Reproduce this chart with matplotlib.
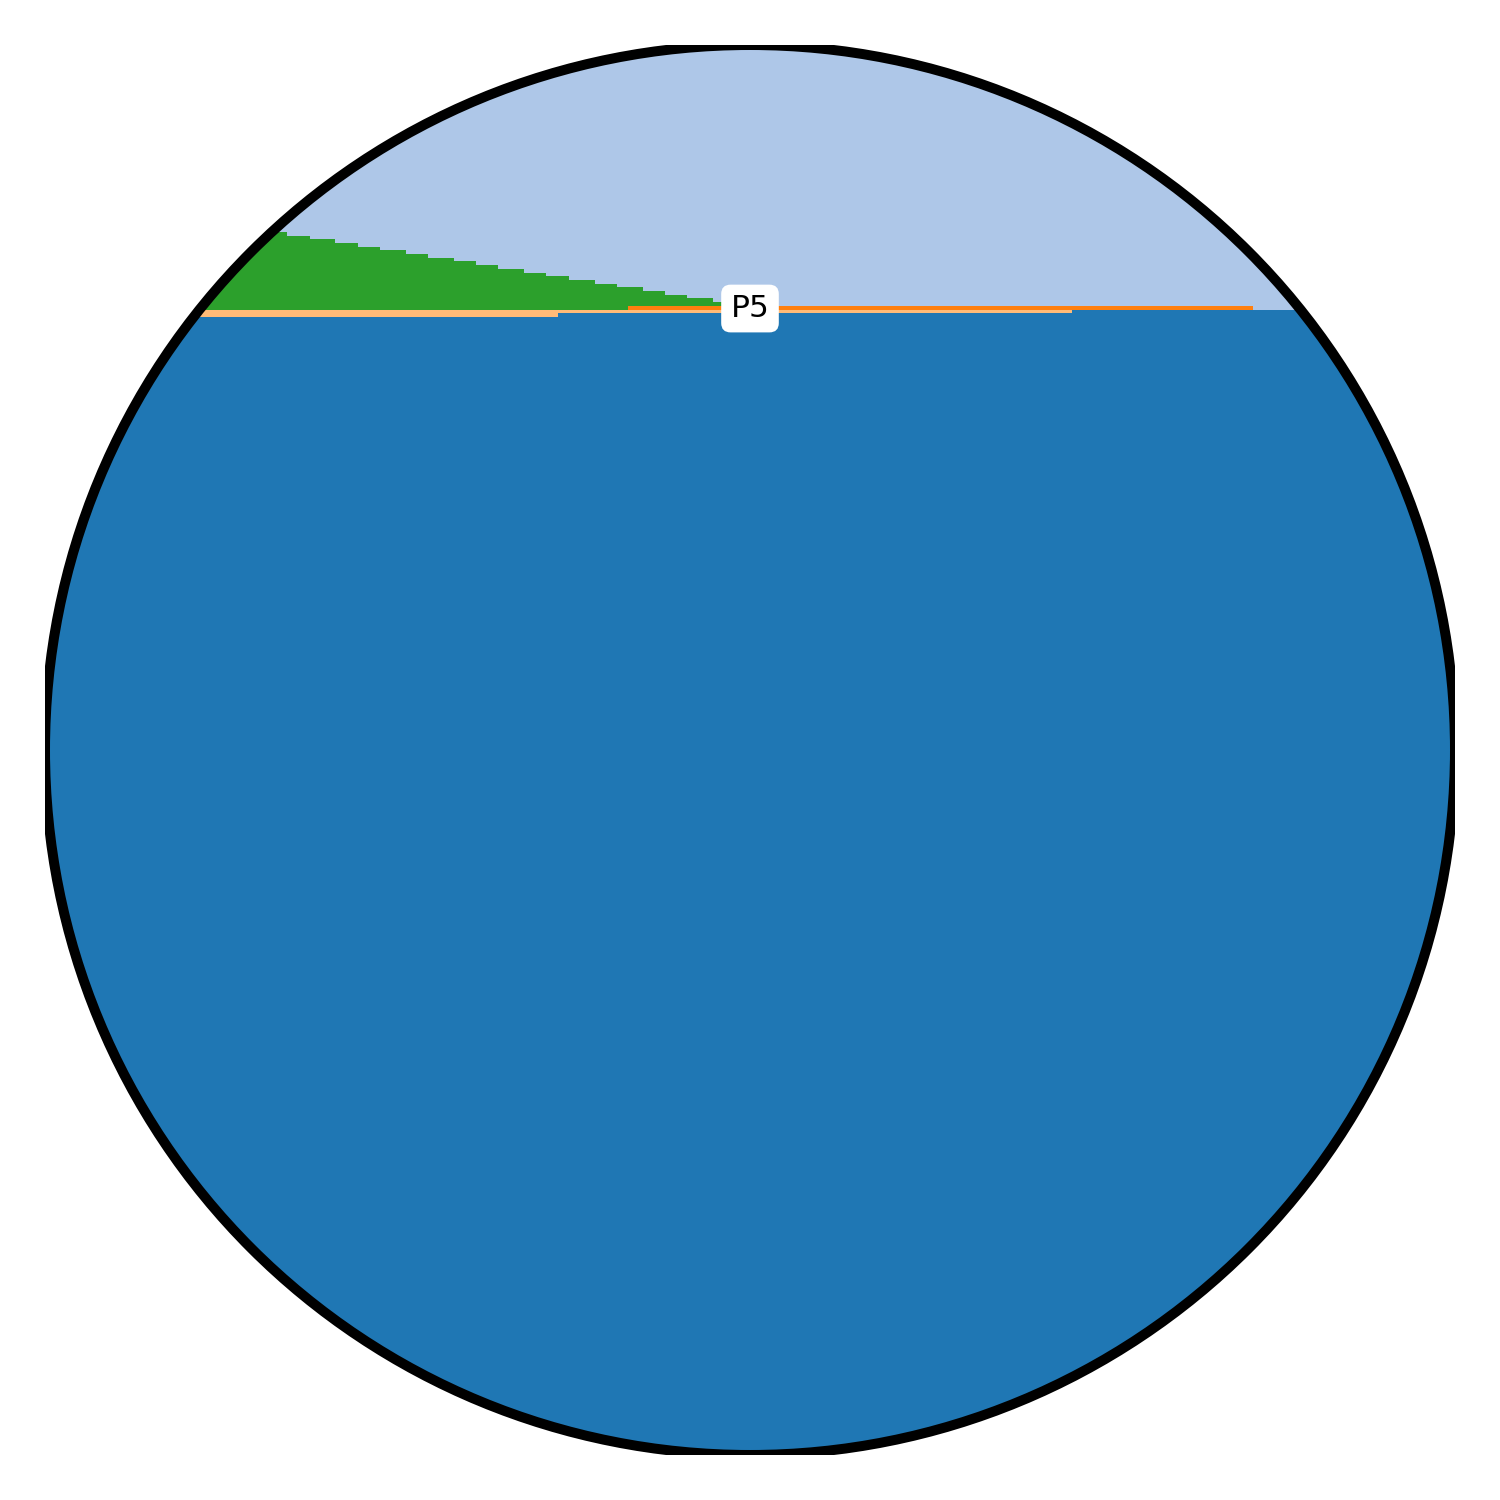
import matplotlib
matplotlib.use('Agg')
import matplotlib.pyplot as plt
from matplotlib.patches import Circle
import numpy as np

# x breakpoints (data units, 0-100)
x_edges = [0, 15.46, 17.14, 18.79, 20.57, 22.22, 23.76, 25.60, 27.16, 29.01, 30.57,
           32.13, 33.97, 35.53, 36.38, 37.16, 39.01, 40.57, 41.33, 42.41, 43.97,
           45.53, 47.38, 49.08, 72.82, 85.65, 100]

# stacked percentage layers (bottom to top), one value per segment
blue = [80.73] * 14 + [81.01] * 10 + [81.21] * 2
light_orange = [0.48] * 14 + [0.20] * 10 + [0.0] * 2
orange = [0.0] * 18 + [0.28] * 7 + [0.0]
green = [5.79, 5.53, 5.24, 5.03, 4.75, 4.46, 4.25, 3.97, 3.68, 3.47, 3.19, 2.90,
         2.62, 2.41, 2.41, 2.12, 1.84, 1.63, 1.35, 1.06, 0.78, 0.57, 0.28, 0.0, 0.0, 0.0]
light_blue = [13.00, 13.26, 13.55, 13.76, 14.04, 14.33, 14.54, 14.82, 15.11, 15.32,
              15.60, 15.89, 16.17, 16.38, 16.38, 16.67, 16.95, 17.16, 17.16, 17.45,
              17.73, 17.94, 18.23, 18.51, 18.51, 18.79]

layers = [blue, light_orange, orange, green, light_blue]
colors = ['#1f77b4', '#ffbb78', '#ff7f0e', '#2ca02c', '#aec7e8']
label_text = 'P5'

fig = plt.figure(figsize=(10, 10), dpi=150)
ax = fig.add_axes([0.03, 0.03, 0.94, 0.94])
ax.set_xlim(0, 100)
ax.set_ylim(0, 100)
ax.axis('off')

clip = Circle((0.5, 0.5), 0.5, transform=ax.transAxes, facecolor='none', edgecolor='none')
ax.add_patch(clip)

bottom = np.zeros(len(blue))
for vals, c in zip(layers, colors):
    vals = np.asarray(vals)
    top = bottom + vals
    art = ax.stairs(top, x_edges, baseline=bottom, fill=True, color=c, linewidth=0)
    art.set_clip_path(clip)
    bottom = top

ring = Circle((0.5, 0.5), 0.5, transform=ax.transAxes, facecolor='none',
              edgecolor='black', linewidth=4.8, zorder=5)
ax.add_patch(ring)

ax.text(50, 81.31, label_text, ha='center', va='center', fontsize=15, zorder=6,
        bbox=dict(boxstyle='round,pad=0.3', facecolor='white', edgecolor='none'))

fig.savefig('out.png', dpi=150)
